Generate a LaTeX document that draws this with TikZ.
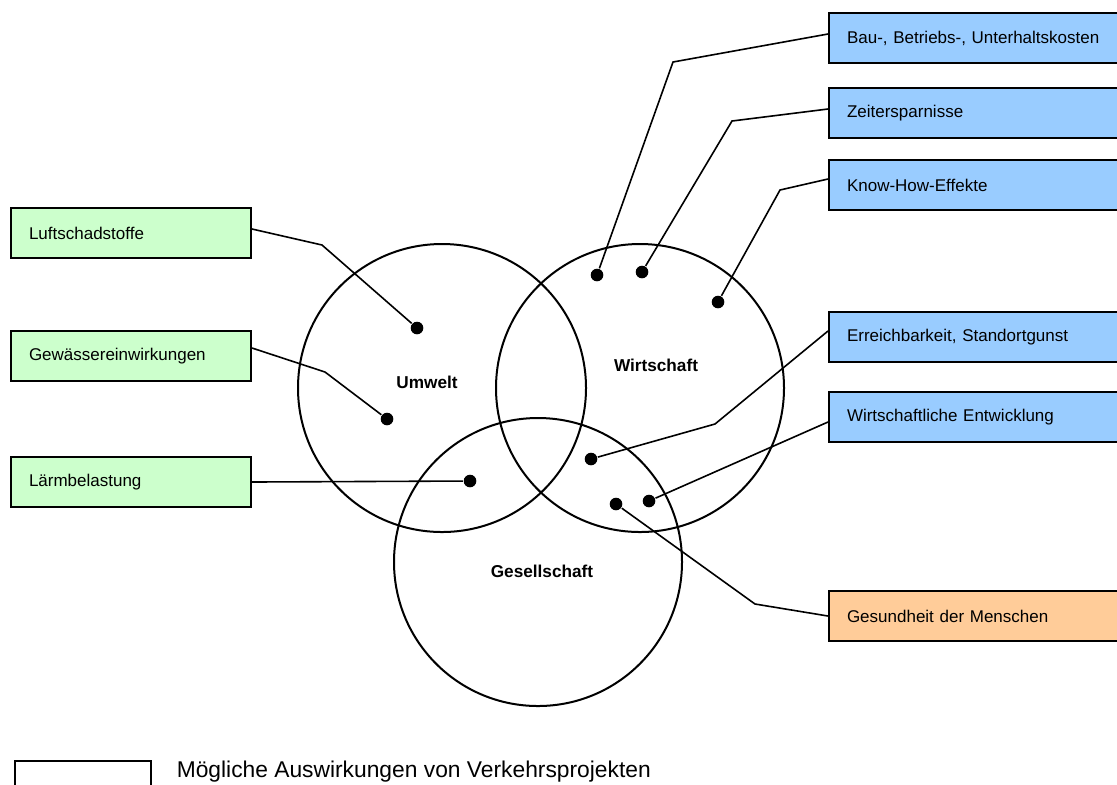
\documentclass[tikz,border=0pt]{standalone}
\usepackage{fontspec}
\setmainfont{Liberation Sans}

\definecolor{greenfill}{HTML}{CCFFCC}
\definecolor{bluefill}{HTML}{99CCFF}
\definecolor{orangefill}{HTML}{FFCC99}

\begin{document}
\begin{tikzpicture}[
    x = 0.5pt, y = -0.5pt, % one unit per pixel of the sketch
    line width = 0.8pt, % line style
    effect node/.style={rectangle, draw, line width=1pt, anchor=north west,
      align=left, inner xsep=9pt, minimum height=25pt,
      font=\fontsize{8.5}{10}\selectfont},
    left node/.style={effect node, fill=greenfill, text width=102pt},
    right node/.style={effect node, fill=bluefill, text width=131pt},
    area node/.style={circle, draw, line width=1pt, minimum size=144pt},
    area label/.style={font=\fontsize{8.6}{10}\selectfont\bfseries},
    dot/.style={circle, fill, inner sep=0pt, minimum size=6.3pt}
  ]

  \useasboundingbox (0,0) rectangle (1117,784);
  \clip (0,0) rectangle (1117,784);

  % Areas
  \node[area node] (umwelt) at (442,388) {};
  \node[area node] (wirtschaft) at (640,388) {};
  \node[area node] (gesellschaft) at (538,562) {};
  \node[area label] (umwelt label) at (427,382) {Umwelt};
  \node[area label] (wirtschaft label) at (656,365) {Wirtschaft};
  \node[area label] (gesellschaft label) at (542,571) {Gesellschaft};

  % Effects
  \node[left node] (luft) at (10,207) {Luftschadstoffe};
  \node[left node] (gewaesser) at (10,330) {Gewässereinwirkungen};
  \node[left node] (laerm) at (10,456) {Lärmbelastung};
  \node[right node] (kosten) at (828,12) {Bau-, Betriebs-, Unterhaltskosten};
  \node[right node] (zeit) at (828,87) {Zeitersparnisse};
  \node[right node] (knowhow) at (828,159) {Know-How-Effekte};
  \node[right node] (erreich) at (828,311) {Erreichbarkeit, Standortgunst};
  \node[right node] (entwicklung) at (828,391) {Wirtschaftliche Entwicklung};
  \node[right node, fill=orangefill] (gesundheit) at (828,590) {Gesundheit der Menschen};

  % Dots
  \node[dot] (luft dot) at (417,328) {};
  \node[dot] (gewaesser dot) at (387,419) {};
  \node[dot] (laerm dot) at (470,481) {};
  \node[dot] (kosten dot) at (597,275) {};
  \node[dot] (zeit dot) at (642,272) {};
  \node[dot] (knowhow dot) at (718,302) {};
  \node[dot] (erreich dot) at (591,459) {};
  \node[dot] (entwicklung dot) at (649,501) {};
  \node[dot] (gesundheit dot) at (616,504) {};

  % Bends
  \coordinate (luft bend) at (322,245);
  \coordinate (gewaesser bend) at (325,372);
  \coordinate (kosten bend) at (673,62);
  \coordinate (zeit bend) at (732,121);
  \coordinate (knowhow bend) at (780,190);
  \coordinate (erreich bend) at (715,424);
  \coordinate (gesundheit bend) at (755,604);

  % Connectors
  \draw ([yshift=2pt]luft.east) -- (luft bend) -- (luft dot);
  \draw ([yshift=4pt]gewaesser.east) -- (gewaesser bend) -- (gewaesser dot);
  \draw (laerm.east) -- (laerm dot);
  \draw ([yshift=2pt]kosten.west) -- (kosten bend) -- (kosten dot);
  \draw ([yshift=2pt]zeit.west) -- (zeit bend) -- (zeit dot);
  \draw ([yshift=3pt]knowhow.west) -- (knowhow bend) -- (knowhow dot);
  \draw ([yshift=3pt]erreich.west) -- (erreich bend) -- (erreich dot);
  \draw ([yshift=-2.5pt]entwicklung.west) -- (entwicklung dot);
  \draw (gesundheit.west) -- (gesundheit bend) -- (gesundheit dot);

  % Legend
  \node[draw, line width=1pt, anchor=north west, minimum width=68pt,
    minimum height=20pt] (legend) at (14,760) {};
  \node[anchor=west, inner sep=0pt, font=\fontsize{11.4}{13}\selectfont]
    (legend text) at (176,772) {Mögliche Auswirkungen von Verkehrsprojekten};
\end{tikzpicture}
\end{document}
